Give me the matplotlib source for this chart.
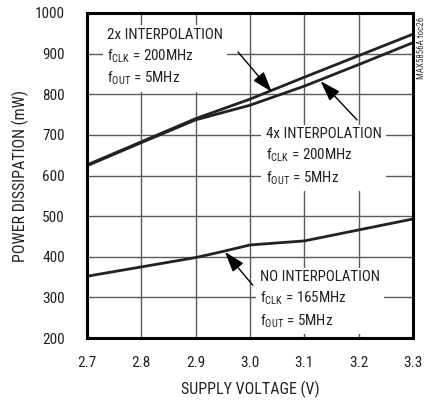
import matplotlib
matplotlib.use("Agg")
import matplotlib.pyplot as plt
from matplotlib import font_manager

names = {f.name for f in font_manager.fontManager.ttflist}
fam = "Roboto"
for cand in ["Liberation Sans Narrow", "Roboto Condensed", "Roboto"]:
    if cand in names:
        fam = cand
        break
plt.rcParams['font.family'] = [fam, 'DejaVu Sans']
plt.rcParams['mathtext.fontset'] = 'custom'
plt.rcParams['mathtext.rm'] = fam
plt.rcParams['mathtext.it'] = fam
plt.rcParams['mathtext.bf'] = fam

# Data
voltage_2x = [2.7, 2.8, 2.9, 3.0, 3.1, 3.2, 3.3]
power_2x = [626, 683, 740, 788, 842, 895, 948]
voltage_4x = [2.7, 2.8, 2.9, 2.95, 3.0, 3.1, 3.2, 3.3]
power_4x = [624, 681, 737, 755, 773, 820, 873, 927]
voltage_none = [2.7, 2.8, 2.9, 2.95, 3.0, 3.1, 3.2, 3.3]
power_none = [352, 375, 398, 413, 429, 439, 466, 493]
xticks = [2.7, 2.8, 2.9, 3.0, 3.1, 3.2, 3.3]
xtick_labels = ["2.7", "2.8", "2.9", "3.0", "3.1", "3.2", "3.3"]
yticks = [200, 300, 400, 500, 600, 700, 800, 900, 1000]

FS = 10.8
fig = plt.figure(figsize=(4.31, 4.01), dpi=100)
ax = fig.add_axes([87/431, 1-338/401, 326/431, 325/401])

lc = "#222222"
for x, y in [(voltage_2x, power_2x), (voltage_4x, power_4x), (voltage_none, power_none)]:
    ax.plot(x, y, color=lc, lw=2.0, solid_capstyle='butt', zorder=3)

ax.set_xlim(2.7, 3.3)
ax.set_ylim(200, 1000)
ax.set_xticks(xticks)
ax.set_xticklabels(xtick_labels)
ax.set_yticks(yticks)
ax.grid(True, color="#5a5a5a", lw=1.0, zorder=1)
ax.set_axisbelow(True)
ax.tick_params(axis='x', length=0, labelsize=11, pad=13, colors="#222222")
ax.tick_params(axis='y', length=0, labelsize=11, pad=16, colors="#222222")
for s in ax.spines.values():
    s.set_linewidth(2.2)
    s.set_color("black")
    s.set_zorder(6)

ax.set_xlabel("SUPPLY VOLTAGE (V)", fontsize=11.5, labelpad=8, color="#222222")
ax.set_ylabel("POWER DISSIPATION (mW)", fontsize=11.5, labelpad=4, color="#222222")

bbox = dict(facecolor="white", edgecolor="none", pad=3)
tk = dict(fontsize=FS, color="#222222", ha="left", va="center", linespacing=1.4,
          transform=ax.transAxes, bbox=bbox, zorder=4)
ax.text(0.061, 0.862, "2x INTERPOLATION\n$\\mathrm{f_{CLK}}$ = 200MHz\n$\\mathrm{f_{OUT}}$ = 5MHz", **tk)
ax.text(0.548, 0.557, "4x INTERPOLATION\n$\\mathrm{f_{CLK}}$ = 200MHz\n$\\mathrm{f_{OUT}}$ = 5MHz", **tk)
ax.text(0.531, 0.117, "NO INTERPOLATION\n$\\mathrm{f_{CLK}}$ = 165MHz\n$\\mathrm{f_{OUT}}$ = 5MHz", **tk)

ap = dict(arrowstyle="-|>,head_length=0.9,head_width=0.3", color="black", lw=1.0,
          shrinkA=0, shrinkB=0, mutation_scale=14)
ax.annotate("", xy=(3.04, 806), xytext=(2.978, 904), arrowprops=ap, zorder=5)
ax.annotate("", xy=(3.13, 832), xytext=(3.197, 737), arrowprops=ap, zorder=5)
ax.annotate("", xy=(2.954, 412), xytext=(3.005, 330), arrowprops=ap, zorder=5)

fig.text(422/431, 1-48/401, "MAX5856A toc26", rotation=90, fontsize=6.5,
         ha="center", va="center", color="#333333")

fig.savefig("out.png", dpi=100)
